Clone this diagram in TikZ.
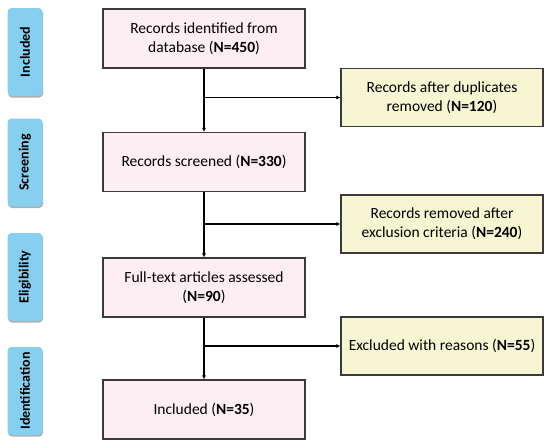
\documentclass[tikz,border=0pt]{standalone}
\usepackage{fontspec}
\setmainfont{Carlito}
\usetikzlibrary{arrows.meta,shadows}
\definecolor{lblue}{HTML}{87CFEE}
\definecolor{lpink}{HTML}{FDEEF3}
\definecolor{lyell}{HTML}{F7F6D2}
\definecolor{bord}{HTML}{3A3A3A}
\tikzset{
  stage/.style={draw=none,fill=lblue,rounded corners=4pt,minimum width=35pt,minimum height=88pt,
    drop shadow={shadow xshift=0.5pt,shadow yshift=-1.5pt,fill=gray!80,opacity=0.8},
    font=\fontsize{14}{16}\selectfont\bfseries,inner sep=0pt},
  mainbox/.style={draw=bord,line width=1.1pt,fill=lpink,minimum width=202pt,minimum height=59pt,
    align=center,font=\fontsize{15.5}{19}\selectfont,inner sep=2pt},
  sidebox/.style={draw=bord,line width=1.1pt,fill=lyell,minimum width=202pt,minimum height=58pt,
    align=center,font=\fontsize{15.5}{19}\selectfont,inner sep=2pt},
  conn/.style={draw=black,line width=1.2pt,-{Latex[length=4pt,width=4pt]}},
}
\begin{document}
\begin{tikzpicture}[x=1pt,y=-1pt]
\useasboundingbox (0,0) rectangle (550,448);
% stage labels
\node[stage] (s1) at (25,52) {\rotatebox{90}{Included}};
\node[stage] (s2) at (25,162.5) {\rotatebox{90}{Screening}};
\node[stage] (s3) at (25,277) {\rotatebox{90}{Eligibility}};
\node[stage] (s4) at (25,391) {\rotatebox{90}{Identification}};
% main boxes
\node[mainbox] (m1) at (204,38.5) {Records identified from\\database (\textbf{N=450})};
\node[mainbox] (m2) at (204,162) {Records screened (\textbf{N=330})};
\node[mainbox] (m3) at (204,287.5) {Full-text articles assessed\\(\textbf{N=90})};
\node[mainbox] (m4) at (204,409.5) {Included (\textbf{N=35})};
% side boxes
\node[sidebox] (r1) at (442,97.5) {Records after duplicates\\removed (\textbf{N=120})};
\node[sidebox] (r2) at (442,224) {Records removed after\\exclusion criteria (\textbf{N=240})};
\node[sidebox] (r3) at (442,346) {Excluded with reasons (\textbf{N=55})};
% connectors
\draw[conn] (m1.south) -- (m2.north);
\draw[conn] (m2.south) -- (m3.north);
\draw[conn] (m3.south) -- (m4.north);
\draw[conn] (m1.south |- r1.west) -- (r1.west);
\draw[conn] (m2.south |- r2.west) -- (r2.west);
\draw[conn] (m3.south |- r3.west) -- (r3.west);
\end{tikzpicture}
\end{document}
